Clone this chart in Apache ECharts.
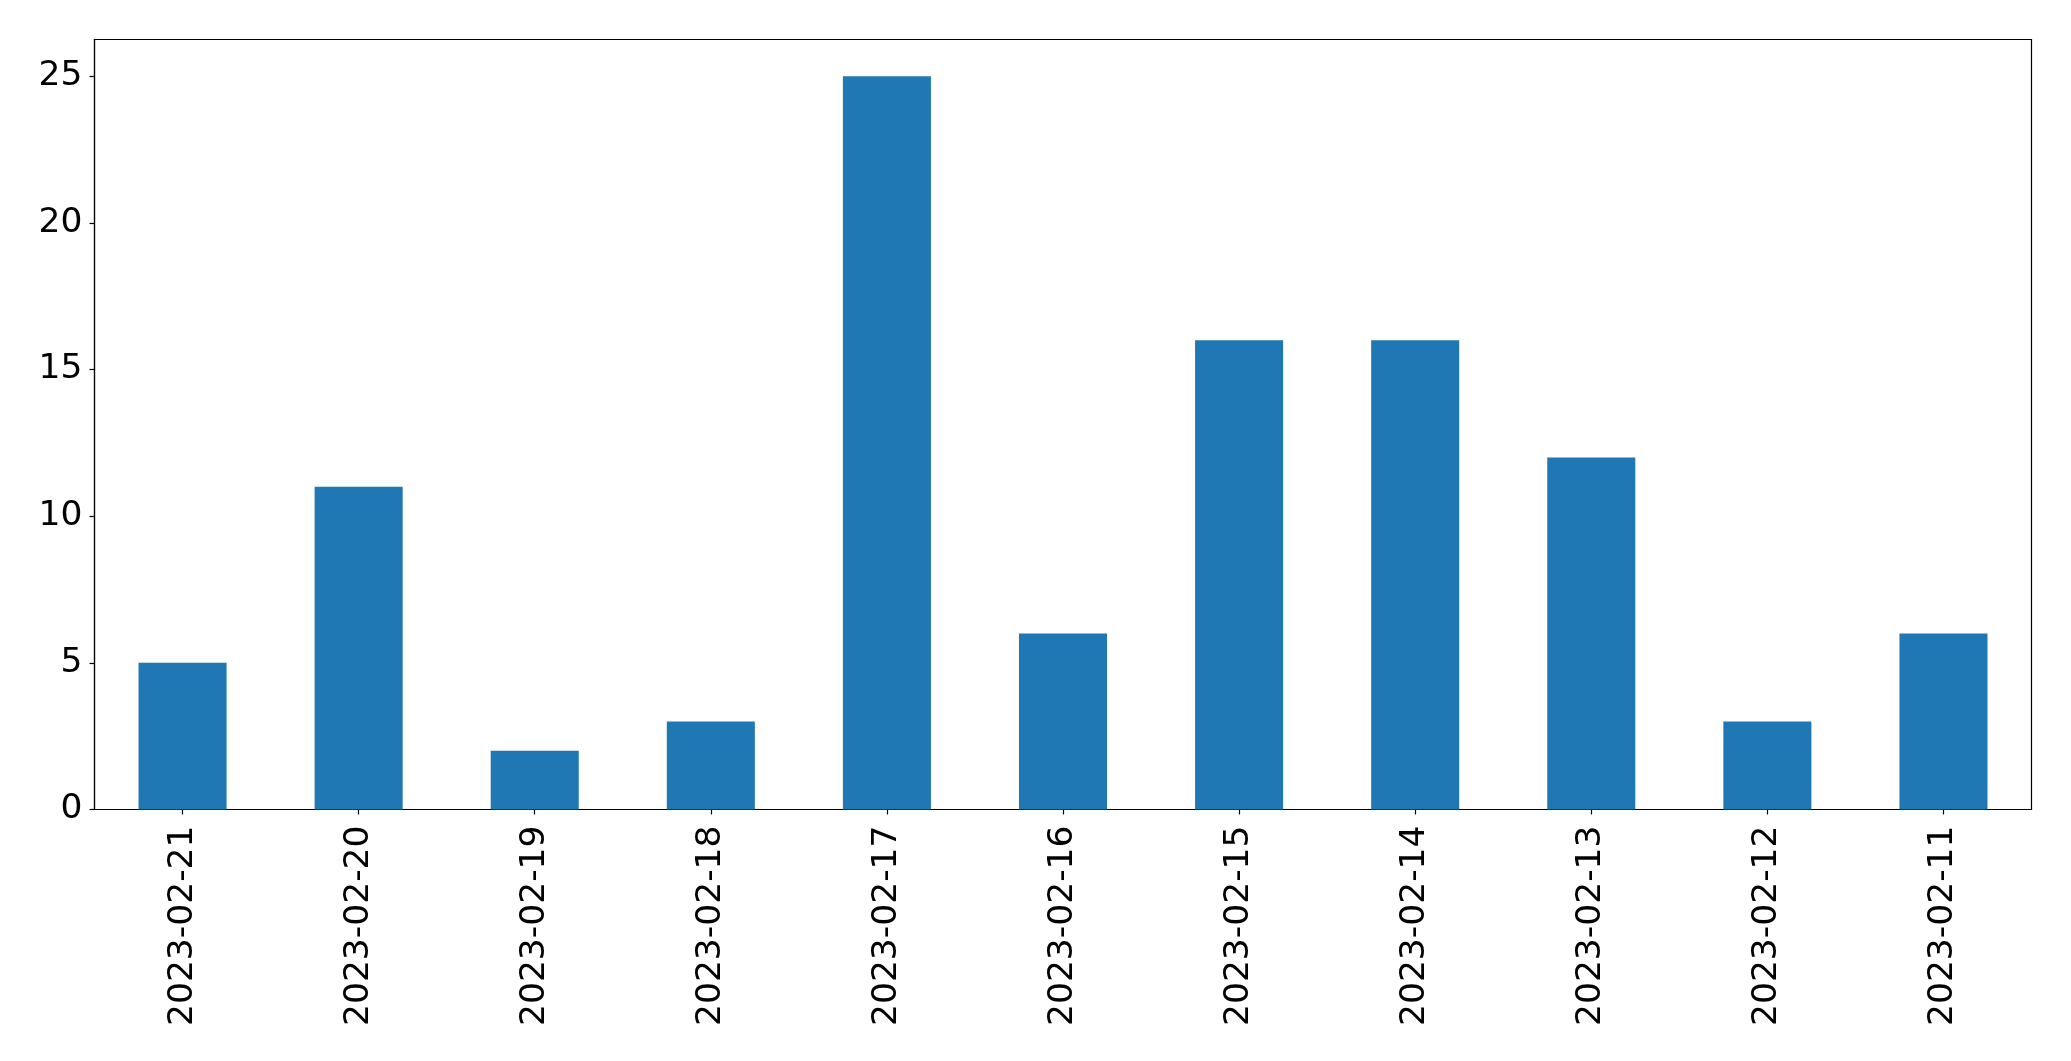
<!DOCTYPE html>
<html>
<head>
<meta charset="utf-8">
<script src="https://cdn.jsdelivr.net/npm/echarts@6/dist/echarts.min.js"></script>
<style>
html,body{margin:0;padding:0;background:#fff;}
#chart{width:2071px;height:1061px;}
</style>
</head>
<body>
<div id="chart"></div>
<script>
const categories = ['2023-02-21','2023-02-20','2023-02-19','2023-02-18','2023-02-17','2023-02-16','2023-02-15','2023-02-14','2023-02-13','2023-02-12','2023-02-11'];
const values = [5, 11, 2, 3, 25, 6, 16, 16, 12, 3, 6];
const yTicks = [0, 5, 10, 15, 20, 25];

const chart = echarts.init(document.getElementById('chart'), null, {renderer: 'canvas'});
const font = 'DejaVu Sans';
chart.setOption({
  animation: false,
  backgroundColor: '#ffffff',
  grid: {
    left: 94.5, top: 39.5, right: 39.5, bottom: 251.5,
    show: true, borderColor: '#000', borderWidth: 1.2, backgroundColor: 'transparent'
  },
  xAxis: {
    type: 'category',
    data: categories,
    axisLine: {show: true, lineStyle: {color: '#000', width: 1.2}},
    axisTick: {show: true, alignWithLabel: true, length: 5, lineStyle: {color: '#000', width: 1.2}},
    axisLabel: {rotate: 90, color: '#000', fontSize: 34.5, fontFamily: font, margin: 16, interval: 0},
    splitLine: {show: false}
  },
  yAxis: {
    type: 'value',
    min: 0, max: 26.25, interval: 5,
    axisLine: {show: true, lineStyle: {color: '#000', width: 1.2}},
    axisTick: {show: true, length: 5, lineStyle: {color: '#000', width: 1.2}, customValues: yTicks},
    axisLabel: {color: '#000', fontSize: 34.5, fontFamily: font, margin: 12, customValues: yTicks},
    splitLine: {show: false}
  },
  series: [{
    type: 'bar',
    data: values,
    barWidth: '50%',
    itemStyle: {color: '#1f77b4'}
  }]
});
</script>
</body>
</html>
